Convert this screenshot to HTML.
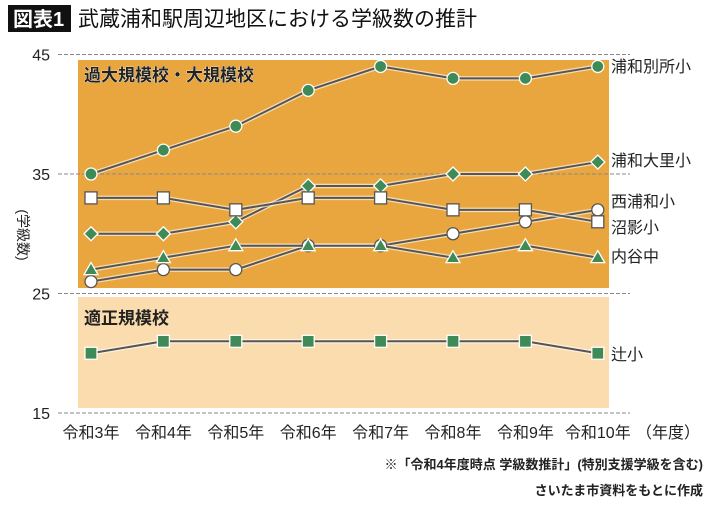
<!DOCTYPE html>
<html><head><meta charset="utf-8"><style>
body{margin:0;background:#fff;font-family:"Liberation Sans","Noto Sans CJK JP",sans-serif;}
svg text{font-family:"Liberation Sans","Noto Sans CJK JP",sans-serif;}
</style></head><body>
<svg id="c" width="710" height="503" viewBox="0 0 710 503">
<rect x="8" y="5" width="63" height="27" fill="#111"/>
<text x="13" y="26" font-size="20" font-weight="bold" fill="#fff">図表1</text>
<text x="78" y="26" font-size="21" fill="#111">武蔵浦和駅周辺地区における学級数の推計</text>
<rect x="78" y="60" width="531" height="228" fill="#E9A63F"/>
<rect x="78" y="297" width="531" height="111" fill="#FBDCAE"/>
<text x="84" y="81" font-size="17" font-weight="bold" fill="#222" stroke="#fff" stroke-width="0.6" paint-order="stroke">過大規模校・大規模校</text>
<text x="84" y="324" font-size="17" font-weight="bold" fill="#222">適正規模校</text>
<g id="grid"></g><g id="lines"></g><g id="marks"></g>
<text transform="translate(18,235) rotate(90)" font-size="14" fill="#222" text-anchor="middle">(学級数)</text>
<text x="636" y="438" font-size="16" fill="#222">（年度）</text>
<text x="703" y="469" font-size="13" font-weight="bold" fill="#222" text-anchor="end">※「令和4年度時点 学級数推計」(特別支援学級を含む)</text>
<text x="703" y="495" font-size="13" font-weight="bold" fill="#222" text-anchor="end">さいたま市資料をもとに作成</text>
</svg>
<script>
const categories=["令和3年","令和4年","令和5年","令和6年","令和7年","令和8年","令和9年","令和10年"];
const yTicks=[15,25,35,45];
const names=["浦和別所小","浦和大里小","西浦和小","沼影小","内谷中","辻小"];
const bessho=[35,37,39,42,44,43,43,44];
const osato=[30,30,31,34,34,35,35,36];
const nishiurawa=[26,27,27,29,29,30,31,32];
const numakage=[33,33,32,33,33,32,32,31];
const uchiya=[27,28,29,29,29,28,29,28];
const tsuji=[20,21,21,21,21,21,21,20];
const labelY=[66,160,201,227,256,354];
const NS="http://www.w3.org/2000/svg";
const x=i=>91+i*72.4;
const y=v=>413-(v-15)*11.95;
function el(t,a,p){const e=document.createElementNS(NS,t);for(const k in a)e.setAttribute(k,a[k]);document.getElementById(p).appendChild(e);return e;}
yTicks.forEach(v=>{
 const l=el('line',{x1:58,x2:630,y1:y(v),y2:y(v),stroke:'#888','stroke-dasharray':'4,2','stroke-width':1},'grid');
 
 
 const t=el('text',{x:50,y:y(v)+6,'font-size':16,'text-anchor':'end',fill:'#222'},'grid');t.textContent=v;
 
 
});
categories.forEach((c,i)=>{
 const t=el('text',{x:x(i),y:438,'font-size':16,'text-anchor':'middle',fill:'#222'},'grid');t.textContent=c;
 
 
});
const G='#3F8B57',W='#fff';
const series=[[bessho,'circle',G],[osato,'diamond',G],[nishiurawa,'circle',W],[numakage,'square',W],[uchiya,'triangle',G],[tsuji,'square',G]];
series.forEach((s,si)=>{
 const [d,shape,fill]=s;
 const pts=d.map((v,i)=>x(i)+','+y(v)).join(' ');
 el('polyline',{points:pts,fill:'none',stroke:'#fff','stroke-width':4.5,opacity:0.6},'lines');
 const pl=el('polyline',{points:pts,fill:'none',stroke:'#555','stroke-width':2},'lines');
 
 
 d.forEach((v,i)=>{
  const cx=x(i),cy=y(v);let m;
  const a={fill:fill,stroke:fill===W?'#555':'#fff','stroke-width':1.3};
  if(shape==='circle')m=el('circle',Object.assign({cx:cx,cy:cy,r:6},a),'marks');
  else if(shape==='square')m=el('rect',Object.assign({x:cx-6,y:cy-6,width:12,height:12},a),'marks');
  else if(shape==='diamond')m=el('polygon',Object.assign({points:`${cx},${cy-7} ${cx+7},${cy} ${cx},${cy+7} ${cx-7},${cy}`},a),'marks');
  else m=el('polygon',Object.assign({points:`${cx},${cy-7} ${cx+7},${cy+5} ${cx-7},${cy+5}`},a),'marks');
  
  
 });
 const t=el('text',{x:611,y:labelY[si]+6,'font-size':16,fill:'#222'},'marks');t.textContent=names[si];
 
 
});
</script>
</body></html>
